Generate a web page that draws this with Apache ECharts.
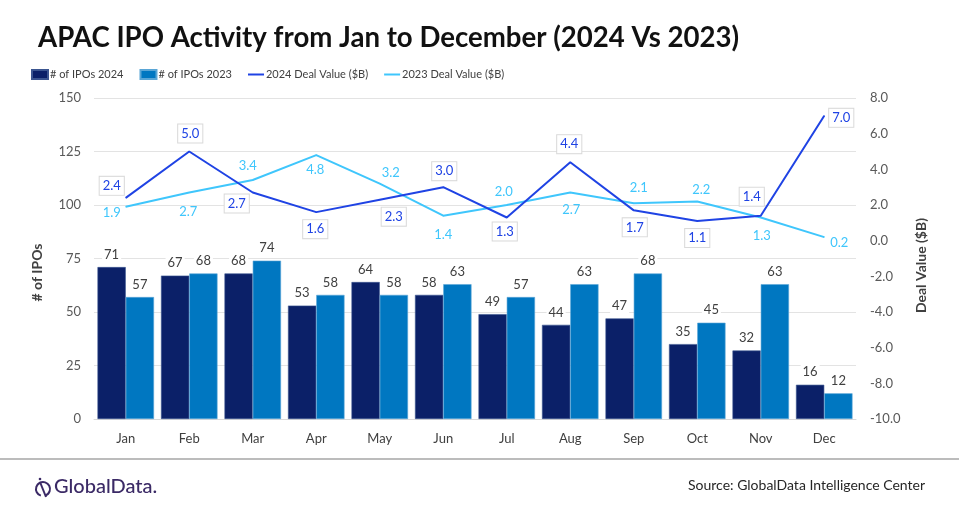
<!DOCTYPE html>
<html>
<head>
<meta charset="utf-8">
<script src="https://cdn.jsdelivr.net/npm/echarts@6/dist/echarts.min.js"></script>
<style>html,body{margin:0;padding:0;background:#fff}#c{width:959px;height:514px}</style>
</head>
<body>
<div id="c"></div>
<script>
var months = ['Jan','Feb','Mar','Apr','May','Jun','Jul','Aug','Sep','Oct','Nov','Dec'];
var ipos2024 = [71,67,68,53,64,58,49,44,47,35,32,16];
var ipos2023 = [57,68,74,58,58,63,57,63,68,45,63,12];
var deal2024 = [2.4,5.0,2.7,1.6,2.3,3.0,1.3,4.4,1.7,1.1,1.4,7.0];
var deal2023 = [1.9,2.7,3.4,4.8,3.2,1.4,2.0,2.7,2.1,2.2,1.3,0.2];

// label placement (pixel offsets from each point)
var off2024 = [[-14,-12],[1,-18],[-16,11],[-1,17],[14,17],[1,-16],[-2,14],[-1,-18],[1,17],[0,17],[-9,-19],[17,2]];
var off2023 = [[-14,6],[-1,19],[-5,-14],[-1,15],[11,-11],[0,19],[-3,-13],[1,17],[5,-15],[4,-12],[1,18],[15,6]];

var FONT = 'Lato, "Liberation Sans", sans-serif';
var C24 = '#1f43e4', C23 = '#3fc6fc';

function lineData(vals, offs) {
  return vals.map(function (v, i) {
    return { value: v, label: { offset: offs[i] } };
  });
}

var chart = echarts.init(document.getElementById('c'));
chart.setOption({
  backgroundColor: '#fff',
  animation: false,
  textStyle: { fontFamily: FONT },
  title: {
    text: 'APAC IPO Activity from Jan to December (2024 Vs 2023)',
    left: 33, top: 19,
    textStyle: { fontFamily: FONT, fontSize: 27.6, fontWeight: 'bold', color: '#111' }
  },
  legend: {
    left: 26, top: 64, itemGap: 16, itemWidth: 16, itemHeight: 9,
    textStyle: { fontFamily: FONT, fontSize: 11, color: '#404040', padding: [0,0,0,-3] },
    data: [
      { name: '# of IPOs 2024', icon: 'rect' },
      { name: '# of IPOs 2023', icon: 'rect' },
      { name: '2024 Deal Value ($B)', icon: 'path://M0,0 L16,0 L16,2 L0,2 Z' },
      { name: '2023 Deal Value ($B)', icon: 'path://M0,0 L16,0 L16,2 L0,2 Z' }
    ]
  },
  grid: { left: 94, right: 103, top: 98, bottom: 95 },
  xAxis: {
    type: 'category', data: months,
    axisLine: { lineStyle: { color: '#d9d9d9' } },
    axisTick: { show: false },
    axisLabel: { color: '#404040', fontSize: 13, margin: 13, fontFamily: FONT }
  },
  yAxis: [
    {
      type: 'value', min: 0, max: 150, interval: 25,
      name: '# of IPOs', nameLocation: 'middle', nameGap: 50, nameRotate: 90,
      nameTextStyle: { fontWeight: 'bold', fontSize: 14, color: '#404040', fontFamily: FONT, padding: [0, 0, 0, -28] },
      axisLine: { show: false }, axisTick: { show: false },
      axisLabel: { color: '#595959', fontSize: 13, margin: 13, fontFamily: FONT },
      splitLine: { lineStyle: { color: '#e3e3e3', width: 1 } }
    },
    {
      type: 'value', min: -10, max: 8, interval: 2, position: 'right',
      name: 'Deal Value ($B)', nameLocation: 'middle', nameGap: 58, nameRotate: 90,
      nameTextStyle: { fontWeight: 'bold', fontSize: 14, color: '#404040', fontFamily: FONT, padding: [0, 0, 0, -14] },
      axisLine: { show: false }, axisTick: { show: false },
      axisLabel: { color: '#595959', fontSize: 13, margin: 14, fontFamily: FONT,
        formatter: function (v) { return v.toFixed(1); } },
      splitLine: { show: false }
    }
  ],
  series: [
    {
      name: '# of IPOs 2024', type: 'bar', data: ipos2024, yAxisIndex: 0,
      barGap: '0%', barCategoryGap: '11%',
      itemStyle: { color: '#0b2068', borderColor: '#3b5590', borderWidth: 0.6 },
      label: { show: true, position: 'top', distance: 5, color: '#404040', fontSize: 13,
        fontFamily: FONT, backgroundColor: '#fff', padding: [1, 2] }
    },
    {
      name: '# of IPOs 2023', type: 'bar', data: ipos2023, yAxisIndex: 0,
      itemStyle: { color: '#0077c1', borderColor: '#5aa6d6', borderWidth: 0.6 },
      label: { show: true, position: 'top', distance: 5, color: '#404040', fontSize: 13,
        fontFamily: FONT, backgroundColor: '#fff', padding: [1, 2] }
    },
    {
      name: '2023 Deal Value ($B)', type: 'line', yAxisIndex: 1, z: 3,
      data: lineData(deal2023, off2023),
      symbol: 'circle', symbolSize: 1,
      lineStyle: { color: C23, width: 2 }, itemStyle: { color: C23 },
      label: { show: true, position: 'inside', color: C23, fontSize: 13, fontFamily: FONT,
        formatter: function (p) { return p.value.toFixed(1); } }
    },
    {
      name: '2024 Deal Value ($B)', type: 'line', yAxisIndex: 1, z: 4,
      data: lineData(deal2024, off2024),
      symbol: 'circle', symbolSize: 1,
      lineStyle: { color: C24, width: 2 }, itemStyle: { color: C24 },
      label: { show: true, position: 'inside', color: C24, fontSize: 13, fontFamily: FONT,
        backgroundColor: '#fff', borderColor: '#d9d9d9', borderWidth: 1, padding: [3, 3, 2, 3],
        formatter: function (p) { return p.value.toFixed(1); } }
    }
  ],
  graphic: [
    { type: 'line', shape: { x1: 0, y1: 459, x2: 959, y2: 459 }, style: { stroke: '#a6a6a6', lineWidth: 1.5 } },
    { type: 'text', right: 34, top: 478, style: { text: 'Source: GlobalData Intelligence Center', fill: '#262626', font: '14px ' + FONT } },
    { type: 'arc', shape: { cx: 43, cy: 489, r: 7, startAngle: Math.PI * 0.6, endAngle: Math.PI * 2.4 }, style: { stroke: '#3b2a66', lineWidth: 2, fill: 'none' } },
    { type: 'line', shape: { x1: 40, y1: 482, x2: 46, y2: 497 }, style: { stroke: '#3b2a66', lineWidth: 2 } },
    { type: 'circle', shape: { cx: 40, cy: 479, r: 1.3 }, style: { fill: '#3b2a66' } },
    { type: 'text', left: 54, top: 477, style: { text: 'GlobalData.', fill: '#3b2a66', font: '500 20px ' + FONT } }
  ]
});
</script>
</body>
</html>
